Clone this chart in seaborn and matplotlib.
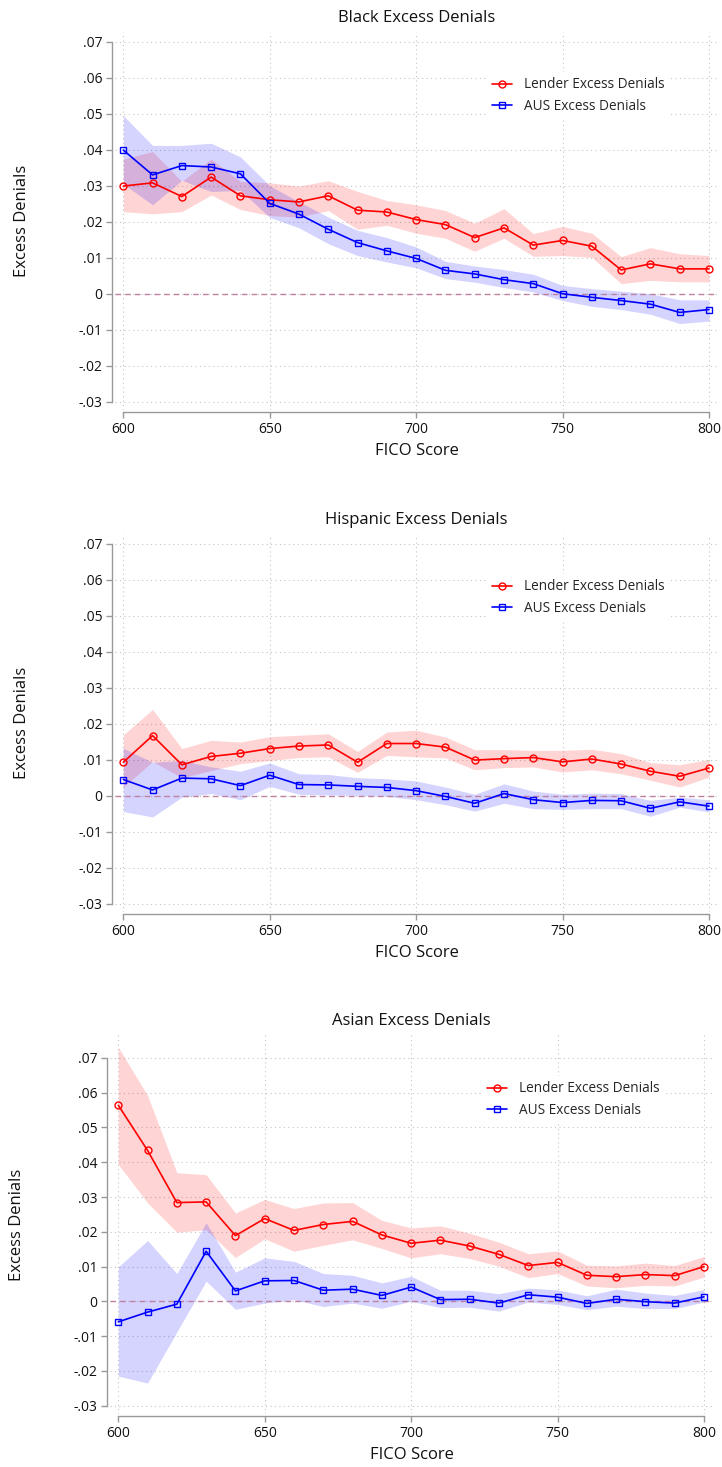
import numpy as np
import pandas as pd
import seaborn as sns
import matplotlib.pyplot as plt

sns.set_theme(style="white")
plt.rcParams['font.family'] = ['Open Sans', 'DejaVu Sans']

# FICO buckets
fico = [600, 610, 620, 630, 640, 650, 660, 670, 680, 690, 700,
        710, 720, 730, 740, 750, 760, 770, 780, 790, 800]

# values below are in percentage points (divided by 100 when plotted)
black_lender = [2.99, 3.08, 2.70, 3.24, 2.72, 2.61, 2.55, 2.72, 2.32, 2.27, 2.06,
                1.92, 1.56, 1.83, 1.35, 1.48, 1.32, 0.66, 0.83, 0.69, 0.69]
black_lender_hi = [3.74, 3.95, 3.12, 3.74, 3.12, 3.08, 2.99, 3.14, 2.84, 2.59, 2.47,
                   2.31, 1.96, 2.36, 1.67, 1.87, 1.68, 1.03, 1.28, 1.11, 1.06]
black_lender_lo = [2.28, 2.22, 2.28, 2.74, 2.34, 2.17, 2.13, 2.31, 1.79, 1.90, 1.68,
                   1.54, 1.18, 1.54, 1.04, 1.06, 1.01, 0.28, 0.37, 0.33, 0.33]
black_aus = [3.99, 3.30, 3.56, 3.52, 3.33, 2.51, 2.21, 1.79, 1.42, 1.19, 0.98,
             0.65, 0.55, 0.39, 0.28, 0.00, -0.10, -0.19, -0.29, -0.52, -0.44]
black_aus_hi = [4.95, 4.12, 4.12, 4.18, 3.80, 3.00, 2.55, 2.13, 1.76, 1.56, 1.30,
                0.90, 0.77, 0.67, 0.54, 0.23, 0.14, 0.07, 0.00, -0.17, -0.17]
black_aus_lo = [3.05, 2.47, 3.15, 2.84, 2.87, 2.12, 1.83, 1.39, 1.06, 0.88, 0.72,
                0.42, 0.32, 0.17, 0.05, -0.19, -0.35, -0.44, -0.57, -0.83, -0.76]

hisp_lender = [0.93, 1.67, 0.86, 1.09, 1.18, 1.31, 1.38, 1.41, 0.93, 1.45, 1.45,
               1.35, 0.99, 1.03, 1.06, 0.94, 1.02, 0.88, 0.68, 0.54, 0.77]
hisp_lender_hi = [1.69, 2.40, 1.31, 1.54, 1.49, 1.64, 1.68, 1.72, 1.23, 1.77, 1.82,
                  1.63, 1.28, 1.28, 1.26, 1.26, 1.29, 1.17, 0.92, 0.86, 1.01]
hisp_lender_lo = [0.24, 0.95, 0.50, 0.70, 0.89, 0.98, 1.06, 1.08, 0.65, 1.12, 1.08,
                  1.05, 0.72, 0.78, 0.80, 0.66, 0.72, 0.61, 0.43, 0.24, 0.52]
hisp_aus = [0.45, 0.16, 0.49, 0.47, 0.28, 0.57, 0.31, 0.30, 0.26, 0.23, 0.14,
            -0.02, -0.21, 0.06, -0.11, -0.19, -0.13, -0.14, -0.35, -0.17, -0.29]
hisp_aus_hi = [1.32, 0.93, 0.98, 0.80, 0.68, 0.91, 0.61, 0.59, 0.50, 0.47, 0.41,
               0.24, 0.04, 0.33, 0.13, 0.04, 0.07, 0.06, -0.13, -0.04, -0.11]
hisp_aus_lo = [-0.44, -0.59, -0.04, 0.06, -0.11, 0.26, 0.04, 0.02, 0.01, -0.02, -0.11,
               -0.25, -0.43, -0.21, -0.36, -0.38, -0.36, -0.36, -0.57, -0.32, -0.45]

asian_lender = [5.64, 4.34, 2.84, 2.86, 1.89, 2.38, 2.04, 2.21, 2.30, 1.91, 1.67,
                1.76, 1.59, 1.35, 1.03, 1.12, 0.75, 0.71, 0.77, 0.74, 1.00]
asian_lender_hi = [7.31, 5.92, 3.70, 3.64, 2.54, 2.93, 2.67, 2.83, 2.84, 2.33, 2.11,
                   2.17, 1.96, 1.70, 1.37, 1.45, 1.04, 1.02, 1.10, 1.03, 1.29]
asian_lender_lo = [3.94, 2.83, 1.99, 2.06, 1.26, 1.80, 1.44, 1.61, 1.77, 1.52, 1.25,
                   1.37, 1.23, 1.01, 0.68, 0.80, 0.44, 0.39, 0.46, 0.44, 0.70]
asian_aus = [-0.59, -0.31, -0.08, 1.44, 0.30, 0.59, 0.60, 0.32, 0.35, 0.17, 0.41,
             0.05, 0.06, -0.05, 0.19, 0.12, -0.06, 0.06, -0.01, -0.05, 0.13]
asian_aus_hi = [0.99, 1.75, 0.80, 2.26, 0.84, 1.25, 1.15, 0.80, 0.75, 0.53, 0.72,
                0.32, 0.32, 0.22, 0.38, 0.33, 0.16, 0.35, 0.24, 0.17, 0.34]
asian_aus_lo = [-2.15, -2.35, -0.88, 0.58, -0.23, -0.05, 0.05, -0.15, -0.05, -0.20, 0.00,
                -0.18, -0.17, -0.28, -0.02, -0.09, -0.24, -0.14, -0.21, -0.21, -0.02]

titles = ["Black Excess Denials", "Hispanic Excess Denials", "Asian Excess Denials"]
ytick_vals = [-0.03, -0.02, -0.01, 0, 0.01, 0.02, 0.03, 0.04, 0.05, 0.06, 0.07]
ytick_labels = ['-.03', '-.02', '-.01', '0', '.01', '.02', '.03', '.04', '.05', '.06', '.07']
xtick_vals = [600, 650, 700, 750, 800]

W, H = 722, 1467
fig = plt.figure(figsize=(W / 100, H / 100), dpi=100)

# pixel boxes: left, top, right, bottom ; ylim ; label positions
panels = [
    dict(box=(115, 32, 718, 410), ylim=(-0.0323, 0.0727),
         data=(black_lender, black_lender_lo, black_lender_hi, black_aus, black_aus_lo, black_aus_hi),
         ylab_x=22, xlab_y=451, leg=(487, 72)),
    dict(box=(115, 534, 718, 912), ylim=(-0.0323, 0.0727),
         data=(hisp_lender, hisp_lender_lo, hisp_lender_hi, hisp_aus, hisp_aus_lo, hisp_aus_hi),
         ylab_x=22, xlab_y=953, leg=(487, 574)),
    dict(box=(110, 1035, 713, 1414), ylim=(-0.0324, 0.0766),
         data=(asian_lender, asian_lender_lo, asian_lender_hi, asian_aus, asian_aus_lo, asian_aus_hi),
         ylab_x=17, xlab_y=1455, leg=(482, 1076)),
]

red = '#ff0000'
blue = '#0000ff'
grid_kw = dict(color='#c4c4c4', lw=0.8, linestyle=(0, (1, 3)))

for title, p in zip(titles, panels):
    l, t, r, b = p['box']
    ax = fig.add_axes([l / W, 1 - b / H, (r - l) / W, (b - t) / H])
    lend, lend_lo, lend_hi, aus, aus_lo, aus_hi = [np.array(v) / 100 for v in p['data']]

    ax.fill_between(fico, lend_lo, lend_hi, color=red, alpha=0.17, lw=0, zorder=1)
    ax.fill_between(fico, aus_lo, aus_hi, color=blue, alpha=0.17, lw=0, zorder=1)
    ax.axhline(0, color='#c080a0', lw=1, dashes=(4, 3), zorder=2)

    sns.lineplot(x=fico, y=lend, ax=ax, color=red, lw=1.2, marker='o',
                 markersize=5, markerfacecolor='none', markeredgecolor=red,
                 markeredgewidth=1, label='Lender Excess Denials', zorder=3)
    sns.lineplot(x=fico, y=aus, ax=ax, color=blue, lw=1.2, marker='s',
                 markersize=4.6, markerfacecolor='none', markeredgecolor=blue,
                 markeredgewidth=1, label='AUS Excess Denials', zorder=3)

    ax.set_xlim(597.17, 803.07)
    ax.set_ylim(*p['ylim'])
    ax.set_xticks(xtick_vals)
    ax.set_xticklabels([str(v) for v in xtick_vals])
    ax.set_yticks(ytick_vals)
    ax.set_yticklabels(ytick_labels)
    for v in xtick_vals:
        ax.axvline(v, zorder=0, **grid_kw)
    for v in ytick_vals:
        ax.axhline(v, zorder=0, **grid_kw)

    for s in ['top', 'right']:
        ax.spines[s].set_visible(False)
    ax.spines['left'].set_bounds(-0.03, 0.07)
    ax.spines['bottom'].set_bounds(600, 800)
    ax.spines['left'].set_position(('outward', 2.2))
    ax.spines['bottom'].set_position(('outward', 1.5))
    for s in ['left', 'bottom']:
        ax.spines[s].set_color('#999999')
        ax.spines[s].set_linewidth(1)
    ax.tick_params(axis='both', length=4, width=1, color='#999999',
                   labelsize=10, labelcolor='#111111', pad=3, direction='out',
                   left=True, bottom=True)

    ax.set_title(title, fontsize=12, color='#111111', pad=7.5)
    ax.set_ylabel('Excess Denials', fontsize=12, color='#111111')
    ax.set_xlabel('FICO Score', fontsize=12, color='#111111')
    ax.yaxis.set_label_coords((p['ylab_x'] - l) / (r - l), 0.5)
    ax.yaxis.label.set_va('center')
    ax.xaxis.set_label_coords(0.5, (b - p['xlab_y']) / (b - t))
    ax.xaxis.label.set_va('center')

    lx, ly = p['leg']
    leg = ax.legend(loc='upper left', bbox_to_anchor=(lx / W, 1 - ly / H),
                    bbox_transform=fig.transFigure, frameon=True, fancybox=False,
                    facecolor='white', edgecolor='none', framealpha=1,
                    fontsize=9.8, handlelength=1.45, handletextpad=0.85,
                    labelspacing=0.45, borderpad=0.4, borderaxespad=0)
    leg.set_zorder(4)

fig.savefig('out.png', dpi=100)
